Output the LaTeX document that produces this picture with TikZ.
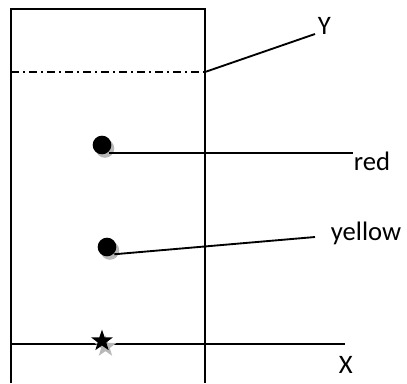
\documentclass[tikz,border=0pt]{standalone}
\usepackage{fontspec}
\setmainfont{Carlito}
\usetikzlibrary{shapes.geometric,shadows}
\begin{document}
\begin{tikzpicture}[x=0.75pt, y=-0.75pt, line width=1.4pt,
    shade/.style={drop shadow={shadow xshift=2.2pt, shadow yshift=-2.6pt, fill=black!28, opacity=1}},
    dot/.style={circle, fill=black, draw=none, inner sep=0pt, minimum size=14pt, shade},
    starmark/.style={star, star points=5, star point ratio=2.5, fill=black, draw=none, inner sep=0pt, minimum size=17pt,
        drop shadow={shadow xshift=2.6pt, shadow yshift=-4.2pt, fill=black!28, opacity=1}},
    lbl/.style={inner sep=0pt, anchor=base west, font=\fontsize{20}{24}\selectfont}]
    \useasboundingbox (0,0) rectangle (407,383);
    % tube and axis
    \draw (11,383) -- (11,9) -- (205,9) -- (205,383);
    \draw[dash pattern=on 6pt off 3pt on 1.5pt off 3pt] (11,72) -- (205,72);
    \draw (11,344) -- (345,344);
    % marks
    \node[dot] (reddot) at (102,145) {};
    \node[dot] (yeldot) at (107,247) {};
    \node[starmark] (mark) at (102,341) {};
    % labels
    \node[lbl] (ylbl) at (317,34) {Y};
    \node[lbl] (redlbl) at (353,170) {red};
    \node[lbl] (yellbl) at (330,240) {yellow};
    \node[lbl] (xlbl) at (338,373) {X};
    % leaders
    \coordinate (yfrom) at (205,72);
    \coordinate (yend) at (315,34);
    \coordinate (redend) at (353,153);
    \coordinate (yelend) at (315,237);
    \draw (yfrom) -- (yend);
    \draw (reddot.south east |- redend) -- (redend);
    \draw (yeldot.south east) -- (yelend);
\end{tikzpicture}
\end{document}
